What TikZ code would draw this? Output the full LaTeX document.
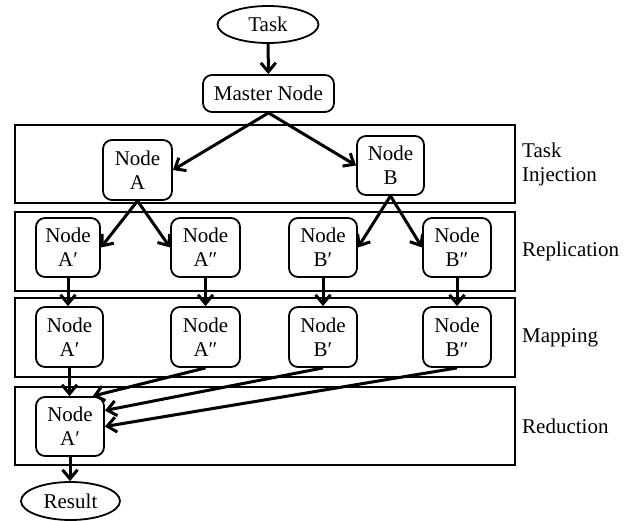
\documentclass[tikz,border=0pt]{standalone}
\usepackage{fontspec}
\setmainfont{Liberation Serif}
\usetikzlibrary{arrows.meta,shapes.geometric,calc}
\begin{document}
\begin{tikzpicture}[x=1pt,y=-1pt,
  font=\fontsize{21}{24}\selectfont,
  box/.style={draw,line width=1.8pt,rounded corners=9pt,align=center,inner sep=0pt,minimum width=67pt,minimum height=59pt},
  oval/.style={draw,line width=1.8pt,ellipse,inner sep=0pt},
  panel/.style={draw,line width=1.8pt,inner sep=0pt,minimum width=500pt},
  lab/.style={anchor=west,align=left,inner sep=0pt},
  arr/.style={line width=3pt,-{Straight Barb[length=9pt,width=15pt]}}
]
\useasboundingbox (0,0) rectangle (639,521);
% panels
\node[panel,minimum height=78pt] (p1) at (265,164) {};
\node[panel,minimum height=79pt] (p2) at (265,251.5) {};
\node[panel,minimum height=79pt] (p3) at (265,337.5) {};
\node[panel,minimum height=78pt] (p4) at (265,426) {};
\node[lab] (l1) at (522,164) {Task\\Injection};
\node[lab] (l2) at (522,251.5) {Replication};
\node[lab] (l3) at (522,338) {Mapping};
\node[lab] (l4) at (522,426) {Reduction};
% nodes
\node[oval,minimum width=101pt,minimum height=37pt] (task) at (268,24.5) {Task};
\node[box,minimum width=131pt,minimum height=37pt] (master) at (268.5,93.5) {Master Node};
\node[box,minimum width=69pt,minimum height=60pt] (a) at (137.5,170) {Node\\A};
\node[box] (b) at (390.5,165.5) {Node\\B};
\node[box,minimum width=64pt] (ra1) at (68,247.5) {Node\\A′};
\node[box,minimum width=69pt] (ra2) at (205.5,247.5) {Node\\A″};
\node[box,minimum width=68pt] (rb1) at (323,247.5) {Node\\B′};
\node[box,minimum width=68pt] (rb2) at (457,247.5) {Node\\B″};
\node[box,minimum width=67pt,minimum height=60pt] (ma1) at (69.5,337) {Node\\A′};
\node[box,minimum width=69pt,minimum height=60pt] (ma2) at (205.5,337) {Node\\A″};
\node[box,minimum width=68pt,minimum height=60pt] (mb1) at (323,337) {Node\\B′};
\node[box,minimum width=68pt,minimum height=60pt] (mb2) at (457,337) {Node\\B″};
\node[box,minimum width=68pt] (red) at (70,426.5) {Node\\A′};
\node[oval,minimum width=99pt,minimum height=38pt] (result) at (70.5,501) {Result};
% connectors
\draw[arr] (task) -- (master);
\draw[arr] (master.south) -- (a.east);
\draw[arr] (master.south) -- (b.west);
\draw[arr] (a.south) -- (ra1.east);
\draw[arr] (a.south) -- (ra2.west);
\draw[arr] (b.south) -- (rb1.east);
\draw[arr] (b.south) -- (rb2.west);
\draw[arr] (ra1.south) -- (ra1.south |- ma1.north);
\draw[arr] (ra2.south) -- (ra2.south |- ma2.north);
\draw[arr] (rb1.south) -- (rb1.south |- mb1.north);
\draw[arr] (rb2.south) -- (rb2.south |- mb2.north);
\draw[arr] (ma1.south) -- (ma1.south |- red.north);
\draw[arr] (ma2.south) -- ($(red.north)!0.65!(red.north east)$);
\draw[arr] (mb1.south) -- ([yshift=16pt]red.east);
\draw[arr] (mb2.south) -- (red.east);
\draw[arr] (red.south) -- (red.south |- result.north);
\end{tikzpicture}
\end{document}
